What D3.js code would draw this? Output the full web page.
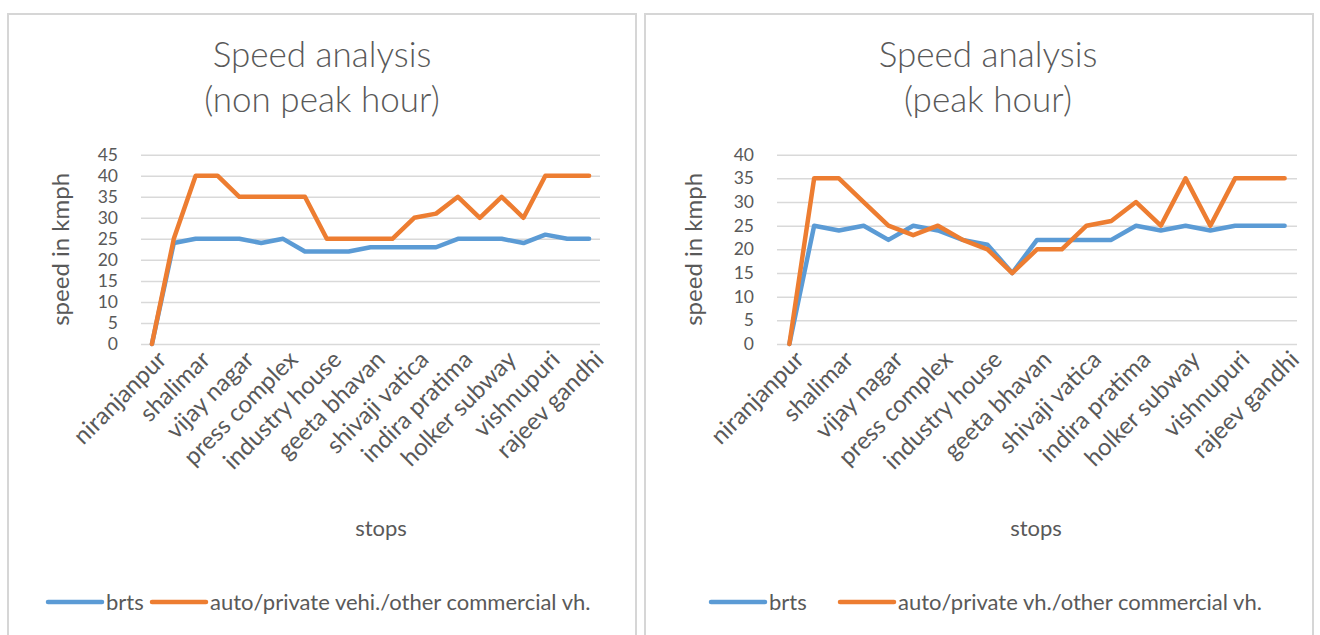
<!DOCTYPE html>
<html>
<head>
<meta charset="utf-8">
<script src="https://cdn.jsdelivr.net/npm/d3@7"></script>
<style>
  html, body { margin: 0; padding: 0; background: #fff; }
  svg { display: block; font-family: Lato, "Open Sans", sans-serif; }
</style>
</head>
<body>
<script>
// ---------- DATA ----------
// 21 stops along the corridor; only every other stop carries a visible label
const stops = ["niranjanpur", "", "shalimar", "", "vijay nagar", "", "press complex", "",
  "industry house", "", "geeta bhavan", "", "shivaji vatica", "", "indira pratima", "",
  "holker subway", "", "vishnupuri", "", "rajeev gandhi"];

const nonPeakBrts = [0, 24, 25, 25, 25, 24, 25, 22, 22, 22, 23, 23, 23, 23, 25, 25, 25, 24, 26, 25, 25];
const nonPeakAuto = [0, 25, 40, 40, 35, 35, 35, 35, 25, 25, 25, 25, 30, 31, 35, 30, 35, 30, 40, 40, 40];
const peakBrts    = [0, 25, 24, 25, 22, 25, 24, 22, 21, 15, 22, 22, 22, 22, 25, 24, 25, 24, 25, 25, 25];
const peakAuto    = [0, 35, 35, 30, 25, 23, 25, 22, 20, 15, 20, 20, 25, 26, 30, 25, 35, 25, 35, 35, 35];

const nonPeakTicks = [0, 5, 10, 15, 20, 25, 30, 35, 40, 45];
const peakTicks    = [0, 5, 10, 15, 20, 25, 30, 35, 40];

const nonPeakLegend = ["brts", "auto/private vehi./other commercial vh."];
const peakLegend    = ["brts", "auto/private vh./other commercial vh."];
const titlesNonPeak = ["Speed analysis", "(non peak hour)"];
const titlesPeak    = ["Speed analysis", "(peak hour)"];
const yTitle = "speed in kmph";
const xTitle = "stops";

// ---------- STYLE ----------
const BLUE = "#5b9bd5", ORANGE = "#ed7d31", TEXT = "#595959", GRID = "#d9d9d9";

const W = 1320, H = 635;
const svg = d3.select("body").append("svg").attr("width", W).attr("height", H);
svg.append("rect").attr("width", W).attr("height", H).attr("fill", "#fff");

function drawPanel(o) {
  const g = svg.append("g");
  // panel border
  g.append("rect")
    .attr("x", o.box[0]).attr("y", o.box[1])
    .attr("width", o.box[2] - o.box[0]).attr("height", o.box[3] - o.box[1])
    .attr("fill", "none").attr("stroke", "#d6d6d6").attr("stroke-width", 2);

  // title
  const t = g.append("text").attr("text-anchor", "middle")
    .attr("fill", TEXT).attr("font-size", 35).attr("font-weight", 300);
  t.append("tspan").attr("x", o.titleX).attr("y", 67).text(o.titles[0]);
  t.append("tspan").attr("x", o.titleX).attr("y", 112).text(o.titles[1]);

  const y = d3.scaleLinear().domain([0, d3.max(o.ticks)]).range([344, 154.7]);
  const x = d3.scaleBand().domain(d3.range(stops.length)).range([o.x0, o.x1]);
  const bw = x.bandwidth();

  // gridlines + y tick labels
  const ya = g.append("g").attr("transform", `translate(${o.x0},0)`)
    .call(d3.axisLeft(y).tickValues(o.ticks).tickSize(-(o.x1 - o.x0)).tickPadding(23));
  ya.select(".domain").remove();
  ya.selectAll(".tick line").attr("stroke", GRID).attr("stroke-width", 1.5);
  ya.selectAll(".tick text").attr("fill", TEXT).attr("font-size", 17.5)
    .attr("font-family", "Lato, sans-serif");

  // x axis labels
  const xa = g.append("g").attr("transform", "translate(0,344)")
    .call(d3.axisBottom(x).tickSize(0).tickFormat(i => stops[i]));
  xa.select(".domain").remove();
  xa.selectAll(".tick").filter(i => stops[i] === "").remove();
  xa.selectAll(".tick text")
    .attr("fill", TEXT).attr("font-size", 24).attr("font-family", "Lato, sans-serif")
    .attr("text-anchor", "end").attr("x", 0).attr("y", 0).attr("dy", "0.71em")
    .attr("transform", "translate(4,5) rotate(-45)");

  // axis titles
  g.append("text").attr("text-anchor", "middle").attr("fill", TEXT).attr("font-size", 24)
    .attr("transform", `translate(${o.yLabelX},${(y(0) + y(d3.max(o.ticks))) / 2}) rotate(-90)`)
    .attr("dy", "0.35em").text(yTitle);
  g.append("text").attr("text-anchor", "middle").attr("fill", TEXT).attr("font-size", 22)
    .attr("x", o.xLabelX).attr("y", 536).text(xTitle);

  // lines
  const line = d3.line().x((d, i) => x(i) + bw / 2).y(d => y(d));
  [[o.brts, BLUE], [o.auto, ORANGE]].forEach(([vals, col]) => {
    g.append("path").datum(vals).attr("d", line).attr("fill", "none")
      .attr("stroke", col).attr("stroke-width", 4.5)
      .attr("stroke-linejoin", "round").attr("stroke-linecap", "round");
  });

  // legend
  const cols = [BLUE, ORANGE];
  o.legend.forEach((name, k) => {
    const lx = o.legendX[k];
    g.append("line").attr("x1", lx).attr("x2", lx + 54).attr("y1", 602).attr("y2", 602)
      .attr("stroke", cols[k]).attr("stroke-width", 4.5).attr("stroke-linecap", "round");
    g.append("text").attr("x", lx + 58).attr("y", 602).attr("dy", "0.35em")
      .attr("fill", TEXT).attr("font-size", 22).text(name);
  });
}

drawPanel({
  box: [8, 14, 636, 660], titles: titlesNonPeak, titleX: 322,
  ticks: nonPeakTicks, x0: 141, x1: 600, yLabelX: 61, xLabelX: 381,
  brts: nonPeakBrts, auto: nonPeakAuto, legend: nonPeakLegend, legendX: [48, 152]
});
drawPanel({
  box: [645, 14, 1313, 660], titles: titlesPeak, titleX: 988,
  ticks: peakTicks, x0: 777, x1: 1297, yLabelX: 694, xLabelX: 1036,
  brts: peakBrts, auto: peakAuto, legend: peakLegend, legendX: [711, 840]
});
</script>
</body>
</html>
